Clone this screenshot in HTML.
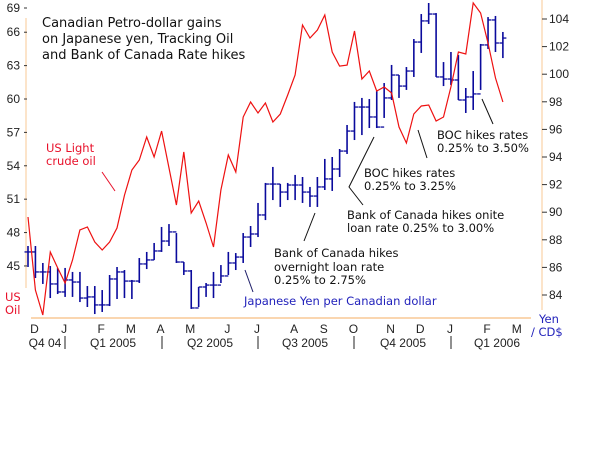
<!DOCTYPE html>
<html><head><meta charset="utf-8"><style>
html,body{margin:0;padding:0;background:#fff;}
svg{display:block;}
</style></head><body>
<svg id="chart" width="600" height="450" viewBox="0 0 600 450" xmlns="http://www.w3.org/2000/svg" font-family="'Liberation Sans', sans-serif">
<g font-family="'DejaVu Sans', sans-serif" font-size="13" fill="#111">
<text x="42" y="27">Canadian Petro-dollar gains</text>
<text x="42" y="43">on Japanese yen, Tracking Oil</text>
<text x="42" y="59">and Bank of Canada Rate hikes</text>
</g>
<line x1="26" y1="18" x2="26" y2="288" stroke="#f9c896" stroke-width="1"/>
<line x1="542" y1="0" x2="542" y2="310" stroke="#f9c896" stroke-width="1"/>
<line x1="31" y1="318" x2="531" y2="318" stroke="#f9c896" stroke-width="1.5"/>
<g id="left-ticks" font-size="12" fill="#222"></g>
<g id="right-ticks" font-size="12" fill="#222"></g>
<g id="x-ticks" font-size="12" fill="#222"></g>
<g id="bars"></g>
<polyline id="oil" fill="none" stroke="#ee1111" stroke-width="1.2"/>
<g font-family="'DejaVu Sans', sans-serif" font-size="11.5">
<text x="46" y="152" fill="#e8102a">US Light</text>
<text x="46" y="165" fill="#e8102a">crude oil</text>
<line x1="102" y1="172" x2="115" y2="191" stroke="#e8102a" stroke-width="1"/>
<text x="5" y="301" fill="#e8102a">US</text>
<text x="5" y="314" fill="#e8102a">Oil</text>
<text x="539" y="323" fill="#2222bb">Yen</text>
<text x="531" y="336" fill="#2222bb">/ CD$</text>
<text x="244" y="305" fill="#2222bb">Japanese Yen per Canadian dollar</text>
<line x1="245" y1="270" x2="253" y2="292" stroke="#1a1a66" stroke-width="1"/>
<g fill="#111">
<text x="274" y="257">Bank of Canada hikes</text>
<text x="274" y="271">overnight loan rate</text>
<text x="274" y="284">0.25% to 2.75%</text>
<text x="347" y="219">Bank of Canada hikes onite</text>
<text x="347" y="232">loan rate 0.25% to 3.00%</text>
<text x="364" y="177">BOC hikes rates</text>
<text x="364" y="190">0.25% to 3.25%</text>
<text x="437" y="139">BOC hikes rates</text>
<text x="437" y="152">0.25% to 3.50%</text>
</g>
<g stroke="#111" stroke-width="1" fill="none">
<line x1="315" y1="213" x2="304" y2="241"/>
<polyline points="374,137 349,187 363,205"/>
<line x1="418" y1="130" x2="427" y2="158"/>
<line x1="482" y1="99" x2="493" y2="124"/>
</g>
</g>
</svg>
<script>
const yenHigh=[87.55,87.55,86.32,86.10,85.96,85.96,85.67,85.67,84.65,84.65,84.36,85.45,86.03,85.81,85.09,86.68,87.12,87.77,88.93,89.14,88.49,86.39,85.81,84.58,84.87,85.67,86.17,87.12,87.04,88.49,89.00,90.67,92.12,93.28,92.04,92.12,92.70,92.55,91.83,92.55,93.86,94.00,94.58,96.32,97.99,98.28,98.20,98.78,99.36,100.67,99.94,100.52,102.55,104.36,105.16,104.43,100.88,101.61,101.39,99.00,100.23,102.19,104.14,104.22,103.06];
const yenLow=[86.03,85.23,84.80,83.78,84.07,83.86,83.86,83.49,83.13,82.62,82.77,83.20,83.71,83.78,83.71,84.87,85.88,86.54,87.12,87.55,86.32,85.45,82.99,83.13,83.86,83.78,84.87,85.45,85.81,86.32,87.48,88.20,89.43,90.88,90.38,90.88,90.88,90.67,90.38,90.38,91.61,91.54,92.55,94.22,95.23,95.59,96.10,96.10,96.83,98.13,98.28,98.86,99.80,101.54,103.64,99.80,99.14,99.22,98.13,97.19,97.41,98.86,101.83,101.61,101.17];
const yenClose=[87.12,85.67,85.67,84.80,84.22,85.09,84.94,83.78,83.86,83.28,83.28,85.16,85.67,85.01,85.01,86.25,86.54,87.19,87.91,88.57,86.39,85.74,83.06,84.58,84.72,84.72,85.38,86.32,86.75,88.20,88.42,89.80,92.04,92.04,91.46,91.97,91.97,91.46,91.17,91.83,92.41,93.13,94.43,95.88,97.62,97.62,96.90,96.17,98.28,99.94,99.14,100.23,102.33,103.86,104.36,99.80,99.65,99.58,98.13,98.35,98.57,102.12,103.93,102.26,102.62];
const oilPrice=[49.40,42.84,40.59,46.25,44.82,43.47,45.53,48.23,48.50,47.15,46.43,47.15,48.41,51.37,53.62,54.52,56.59,54.79,57.12,53.80,50.48,55.24,49.76,50.84,48.86,46.70,51.82,54.97,53.44,58.38,59.73,58.74,59.64,57.93,58.65,60.36,62.16,66.65,65.48,66.20,67.55,64.22,62.96,63.05,66.11,61.80,62.52,60.72,61.08,60.54,57.48,56.05,58.65,59.37,59.46,58.02,58.38,61.08,64.22,64.04,68.63,67.73,65.03,61.89,59.73];
const oilTicks=[69,66,63,60,57,54,51,48,45];
const yenTicks=[104,102,100,98,96,94,92,90,88,86,84];
const monthLabels=["D","J","F","M","A","M","J","J","A","S","O","N","D","J","F","M"];
const monthPos=[1,5,10,14,18,22,27,31,36,40,44,49,53,57,62,66];
const quarterLabels=["Q4 04","Q1 2005","Q2 2005","Q3 2005","Q4 2005","Q1 2006"];

const NS="http://www.w3.org/2000/svg";
function xAt(i){return 28+i*7.42;}
function yYen(v){return 19+(104-v)*13.8;}
function yOil(v){return 99+(60-v)*11.13;}
function mk(tag,attrs,parent){const e=document.createElementNS(NS,tag);for(const k in attrs)e.setAttribute(k,attrs[k]);parent.appendChild(e);return e;}

const lt=document.getElementById('left-ticks');
oilTicks.forEach(v=>{const y=Math.max(yOil(v),8);
  const t=mk('text',{x:20,y:y+4,'text-anchor':'end'},lt);t.textContent=v;
  
  
  mk('line',{x1:24,y1:y,x2:27,y2:y,stroke:'#333'},lt);
});
const rt=document.getElementById('right-ticks');
yenTicks.forEach(v=>{const y=yYen(v);
  mk('line',{x1:542,y1:y,x2:547,y2:y,stroke:'#333'},rt);
  const t=mk('text',{x:549,y:y+4},rt);t.textContent=v;
  
  
});
const xt=document.getElementById('x-ticks');
monthLabels.forEach((m,i)=>{const x=xAt(monthPos[i])-1;
  const t=mk('text',{x:x,y:333,'text-anchor':'middle'},xt);t.textContent=m;
  
  
});
const qc=[45,113,210,305,403,497];
quarterLabels.forEach((q,i)=>{
  const t=mk('text',{x:qc[i],y:347,'text-anchor':'middle'},xt);t.textContent=q;
  
  
});
[65,162,258,354,451].forEach(x=>mk('line',{x1:x,y1:336,x2:x,y2:349,stroke:'#222'},xt));

const bars=document.getElementById('bars');
yenHigh.forEach((h,i)=>{
  const x=xAt(i);
  const g=mk('g',{stroke:'#0a0a9c','stroke-width':1.6},bars);
  
  
  mk('line',{x1:x,y1:yYen(h),x2:x,y2:yYen(yenLow[i])},g);
  const o=i>0?yenClose[i-1]:yenClose[0];
  mk('line',{x1:x-3.5,y1:yYen(o),x2:x,y2:yYen(o),'stroke-width':1.3},g);
  mk('line',{x1:x,y1:yYen(yenClose[i]),x2:x+3.5,y2:yYen(yenClose[i]),'stroke-width':1.3},g);
});
document.getElementById('oil').setAttribute('points',oilPrice.map((v,i)=>xAt(i).toFixed(1)+','+yOil(v).toFixed(1)).join(' '));
</script>
</body></html>
